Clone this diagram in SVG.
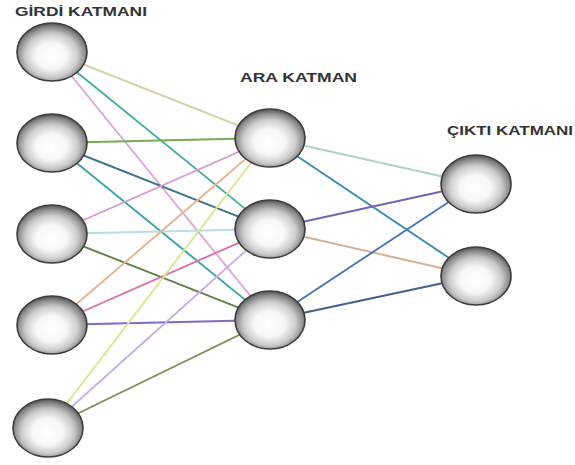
<svg xmlns="http://www.w3.org/2000/svg" width="575" height="465" viewBox="0 0 575 465">
  <defs>
    <radialGradient id="ball" cx="50%" cy="55%" r="55%" fx="48%" fy="58%">
      <stop offset="0" stop-color="#ffffff"/>
      <stop offset="0.4" stop-color="#f7f7f7"/>
      <stop offset="0.68" stop-color="#cccccc"/>
      <stop offset="0.87" stop-color="#8c8c8c"/>
      <stop offset="1" stop-color="#505050"/>
    </radialGradient>
    <style>
      .node { fill: url(#ball); stroke: #3c3c3c; stroke-width: 1.6; }
      .lbl { font-family: "Liberation Sans", Arial, sans-serif; font-weight: bold; font-size: 13px; fill: #333333; }
      .edges line { stroke-width: 1.9; fill: none; stroke-linecap: round; }
    </style>
  </defs>

  <rect width="575" height="465" fill="#ffffff"/>

  <!-- layer titles -->
  <text class="lbl" x="15" y="16" textLength="132" lengthAdjust="spacingAndGlyphs">GİRDİ KATMANI</text>
  <text class="lbl" x="240" y="82" textLength="117" lengthAdjust="spacingAndGlyphs">ARA KATMAN</text>
  <text class="lbl" x="447" y="135" textLength="126" lengthAdjust="spacingAndGlyphs">ÇIKTI KATMANI</text>

  <!-- connections -->
  <g id="connectors" class="edges">
    <!-- input 1 -->
    <line x1="52" y1="52" x2="270" y2="138" stroke="#d6d0a8"/>
    <line x1="52" y1="52" x2="270" y2="229" stroke="#45ae9e"/>
    <line x1="52" y1="52" x2="270" y2="320" stroke="#d8a8d6"/>
    <!-- input 2 -->
    <line x1="52" y1="143" x2="270" y2="138" stroke="#74ac50"/>
    <line x1="52" y1="143" x2="270" y2="229" stroke="#3f7286"/>
    <line x1="52" y1="143" x2="270" y2="320" stroke="#3aa4a2"/>
    <!-- input 3 -->
    <line x1="52" y1="234" x2="270" y2="138" stroke="#d69ccb"/>
    <line x1="52" y1="234" x2="270" y2="229" stroke="#b6dde4"/>
    <line x1="52" y1="234" x2="270" y2="320" stroke="#627f46"/>
    <!-- input 4 -->
    <line x1="52" y1="325" x2="270" y2="138" stroke="#e6b48e"/>
    <line x1="52" y1="325" x2="270" y2="229" stroke="#d872a8"/>
    <line x1="52" y1="325" x2="270" y2="320" stroke="#8668c4"/>
    <!-- input 5 -->
    <line x1="48" y1="428" x2="270" y2="138" stroke="#d8e690"/>
    <line x1="48" y1="428" x2="270" y2="229" stroke="#c8aee6"/>
    <line x1="48" y1="428" x2="270" y2="320" stroke="#7c9254"/>
    <!-- hidden to output -->
    <line x1="270" y1="138" x2="476" y2="184" stroke="#acd4c2"/>
    <line x1="270" y1="138" x2="476" y2="276" stroke="#3a8cac"/>
    <line x1="270" y1="229" x2="476" y2="184" stroke="#7464b4"/>
    <line x1="270" y1="229" x2="476" y2="276" stroke="#d4b090"/>
    <line x1="270" y1="320" x2="476" y2="184" stroke="#4a76b2"/>
    <line x1="270" y1="320" x2="476" y2="276" stroke="#40608e"/>
  </g>

  <!-- input layer -->
  <g id="in1"><ellipse class="node" cx="52" cy="52" rx="35" ry="29"/></g>
  <g id="in2"><ellipse class="node" cx="52" cy="143" rx="35" ry="29"/></g>
  <g id="in3"><ellipse class="node" cx="52" cy="234" rx="35" ry="29"/></g>
  <g id="in4"><ellipse class="node" cx="52" cy="325" rx="35" ry="29"/></g>
  <g id="in5"><ellipse class="node" cx="48" cy="428" rx="35" ry="29"/></g>

  <!-- hidden layer -->
  <g id="hid1"><ellipse class="node" cx="270" cy="138" rx="35" ry="29"/></g>
  <g id="hid2"><ellipse class="node" cx="270" cy="229" rx="35" ry="29"/></g>
  <g id="hid3"><ellipse class="node" cx="270" cy="320" rx="35" ry="29"/></g>

  <!-- output layer -->
  <g id="out1"><ellipse class="node" cx="476" cy="184" rx="35" ry="29"/></g>
  <g id="out2"><ellipse class="node" cx="476" cy="276" rx="35" ry="29"/></g>
</svg>
